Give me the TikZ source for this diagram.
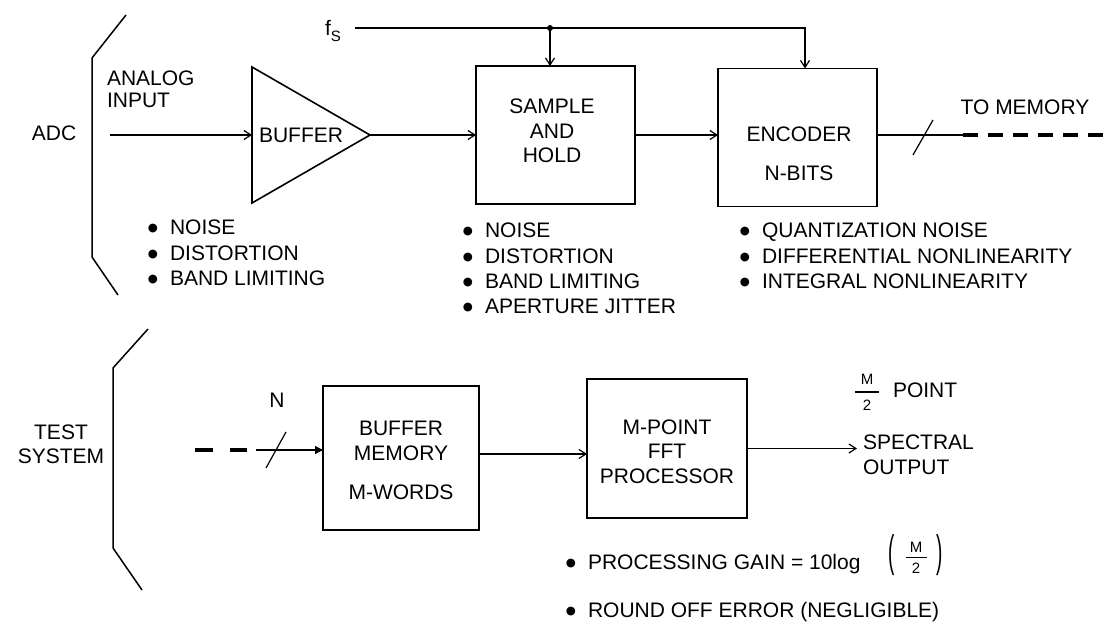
\documentclass[tikz,border=0pt]{standalone}
\usepackage{fontspec}
\setmainfont{Liberation Sans}
\newfontfamily\dejavu{DejaVu Sans}
\usetikzlibrary{arrows.meta}
\newcommand\bltxt[1]{\makebox[8pt][c]{\raisebox{3pt}{\dejavu\fontsize{11.5}{11.5}\selectfont ●}}\hspace{13pt}#1}
\begin{document}
\begin{tikzpicture}[x=1pt,y=-1pt,
  font=\fontsize{21}{24.5}\selectfont,
  every node/.style={inner sep=0pt, outer sep=0pt},
  box/.style={draw, line width=1.6pt},
  wire/.style={line width=1.2pt},
  arr/.style={wire, -{Straight Barb[length=7pt,width=9pt,line width=1.2pt]}},
  arrf/.style={wire, -{Triangle[length=8pt,width=8pt]}},
  lbl/.style={text height=15pt, text depth=0pt, anchor=west},
  ctr/.style={align=center},
  small/.style={font=\fontsize{15}{15}\selectfont},
  brk/.style={line width=1.5pt},
  bus/.style={line width=3.5pt},
]
\fill[white] (0,0) rectangle (1106,629);
\useasboundingbox (0,0) rectangle (1106,629);

% ---------- ADC section ----------
\draw[brk] (126,15) -- (92,58) -- (92,257) -- (118,295);
\node (adc) at (54,133) {ADC};
\node[anchor=west, align=left, font=\fontsize{21}{22}\selectfont] (ain) at (107,89) {ANALOG\\INPUT};
\coordinate (inp) at (110,135);
\coordinate (bufL) at (252,135);
\coordinate (bufR) at (370,135);
\draw[box] (252,67) -- (bufR) -- (252,203) -- cycle;
\node (buftxt) at (301,135) {BUFFER};
\draw[arr] (inp) -- (bufL);

\node[lbl] (b1) at (149,227) {\bltxt{NOISE}};
\node[lbl] (b2) at (149,253) {\bltxt{DISTORTION}};
\node[lbl] (b3) at (149,278) {\bltxt{BAND LIMITING}};

\node[box, minimum width=159pt, minimum height=138pt] (sh) at (555.5,135) {};
\node[ctr] (shtxt) at (552,131) {SAMPLE\\AND\\HOLD};
\draw[arr] (bufR) -- (sh.west);

\node[box, minimum width=159pt, minimum height=138pt] (enc) at (797.5,137.5) {};
\node[ctr] (enctxt) at (799,154) {ENCODER\\[14pt]N-BITS};
\draw[arr] (sh.east) -- (sh.east -| enc.west);

\node[lbl] (s1) at (464,230) {\bltxt{NOISE}};
\node[lbl] (s2) at (464,256) {\bltxt{DISTORTION}};
\node[lbl] (s3) at (464,281) {\bltxt{BAND LIMITING}};
\node[lbl] (s4) at (464,306) {\bltxt{APERTURE JITTER}};

\node[lbl] (e1) at (741,230) {\bltxt{QUANTIZATION NOISE}};
\node[lbl] (e2) at (741,256) {\bltxt{DIFFERENTIAL NONLINEARITY}};
\node[lbl] (e3) at (741,281) {\bltxt{INTEGRAL NONLINEARITY}};

% sampling clock
\node[anchor=base west] (fs) at (325,35) {f\raisebox{-6pt}{\fontsize{15}{15}\selectfont S}};
\coordinate (fsl) at (355,28);
\coordinate (j) at (550,28);
\draw[arr] (fsl) -| ([xshift=7.5pt]enc.north);
\fill (j) circle (3pt);
\draw[arr] (j) -- (j |- sh.north);

% output to memory
\coordinate (memend) at (963,135);
\coordinate (memfar) at (1106,135);
\draw[wire] (enc.east |- memend) -- (memend);
\draw[bus, dash pattern=on 15pt off 10pt] (memend) -- (memfar);
\draw[wire] (913,155) -- (933,120);
\node (tomem) at (1025,107) {TO MEMORY};

% ---------- TEST SYSTEM section ----------
\draw[brk] (148,329) -- (113,368) -- (113,548) -- (142,590);
\node[ctr] (ts) at (61,444.5) {TEST\\SYSTEM};

\node[box, minimum width=156pt, minimum height=144pt] (bm) at (401,458) {};
\node[ctr] (bmtxt) at (401,460.5) {BUFFER\\MEMORY\\[15pt]M-WORDS};

\coordinate (d0) at (195,450);
\coordinate (d1) at (247,450);
\coordinate (d2) at (256,450);
\draw[bus, dash pattern=on 18pt off 17pt] (d0) -- (d1);
\draw[arrf] (d2) -- (d2 -| bm.west);
\draw[wire] (266,468) -- (286,432);
\node (nn) at (277,400) {N};

\node[box, minimum width=160pt, minimum height=139pt] (fft) at (667,448.5) {};
\node[ctr] (ffttxt) at (667,451.5) {M-POINT\\FFT\\PROCESSOR};
\coordinate (mid) at (530,454);
\draw[arr] (bm.east |- mid) -- (fft.west |- mid);

\coordinate (specin) at (857,448.5);
\draw[arr] (fft.east) -- (specin);
\node[anchor=west, align=left] (spec) at (863,455) {SPECTRAL\\OUTPUT};

% M/2 POINT
\node[small] (mnum) at (867,379) {M};
\node[small] (mden) at (867,405) {2};
\draw[line width=1.1pt] (855,392) -- (879,392);
\node[anchor=west] (mpoint) at (893,390) {POINT};

% bullets at bottom
\node[lbl] (p1) at (567,562) {\bltxt{PROCESSING GAIN = 10log}};
\node (lp) at (892,555) {\scalebox{0.9}[2.1]{(}};
\node[small] (pnum) at (916,547) {M};
\node[small] (pden) at (916,568) {2};
\draw[line width=1.1pt] (906,557.5) -- (927,557.5);
\node (rp) at (940,555) {\scalebox{0.9}[2.1]{)}};
\node[lbl] (p2) at (567,610) {\bltxt{ROUND OFF ERROR (NEGLIGIBLE)}};
\end{tikzpicture}
\end{document}
